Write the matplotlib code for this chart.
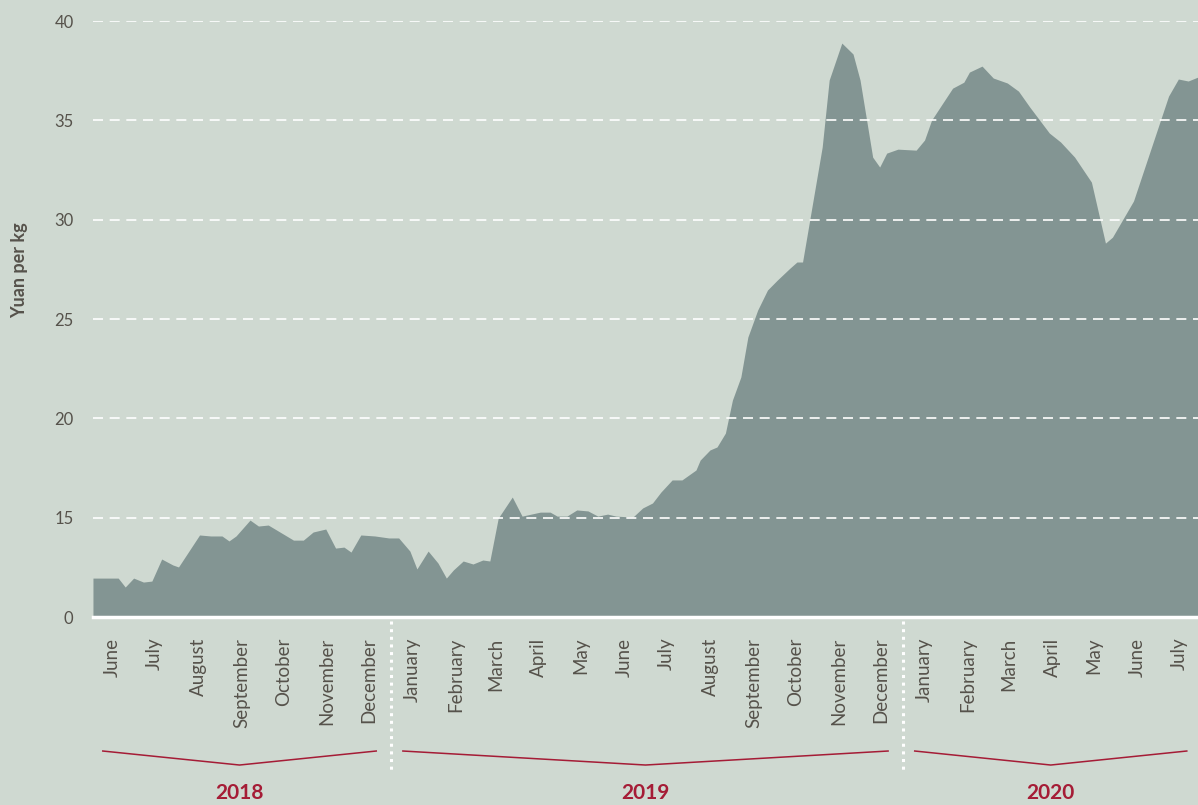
import numpy as np
import pandas as pd
import matplotlib
matplotlib.use('Agg')
import matplotlib.pyplot as plt
import matplotlib.transforms as mtransforms

# live hog price, yuan per kg; days counted from 15 June 2018
days = [-14, 4, 9, 15, 22, 28, 35, 43, 47, 62, 70, 78, 83, 88, 98, 104, 111,
        129, 136, 143, 152, 159, 165, 170, 177, 187, 197, 204, 212, 217, 225,
        232, 238, 243, 250, 257, 264, 269, 275, 285, 292, 305, 312, 317, 324,
        331, 339, 346, 353, 359, 371, 378, 385, 391, 399, 406, 416, 419, 426,
        431, 437, 442, 448, 453, 460, 467, 474, 483, 488, 492, 506, 511, 520,
        528, 533, 542, 547, 552, 560, 573, 579, 584, 592, 599, 607, 611, 620,
        628, 638, 646, 654, 668, 676, 686, 698, 708, 713, 728, 753, 760, 767,
        774]
price = [11.96, 11.96, 11.51, 11.96, 11.76, 11.81, 12.92, 12.62, 12.52, 14.13,
         14.08, 14.08, 13.83, 14.08, 14.88, 14.58, 14.63, 13.87, 13.87, 14.28,
         14.43, 13.47, 13.52, 13.27, 14.13, 14.08, 13.98, 13.98, 13.32, 12.42,
         13.32, 12.72, 11.96, 12.37, 12.82, 12.67, 12.87, 12.82, 14.98, 16.04,
         15.08, 15.28, 15.28, 15.08, 15.08, 15.39, 15.34, 15.08, 15.18, 15.08,
         15.03, 15.49, 15.74, 16.29, 16.90, 16.90, 17.40, 17.90, 18.41, 18.56,
         19.26, 20.92, 22.08, 24.09, 25.45, 26.46, 26.96, 27.56, 27.87, 27.87,
         33.65, 37.03, 38.89, 38.34, 37.03, 33.15, 32.65, 33.35, 33.55, 33.50,
         34.01, 35.01, 35.87, 36.62, 36.92, 37.43, 37.73, 37.13, 36.88, 36.47,
         35.67, 34.36, 33.91, 33.15, 31.89, 28.82, 29.12, 30.94, 36.22, 37.08,
         36.98, 37.18]

month_names = ['June', 'July', 'August', 'September', 'October', 'November',
               'December', 'January', 'February', 'March', 'April', 'May',
               'June', 'July', 'August', 'September', 'October', 'November',
               'December', 'January', 'February', 'March', 'April', 'May',
               'June', 'July']
years = ['2018', '2019', '2020']
# index range of month labels belonging to each year
year_spans = [(0, 6), (7, 18), (19, 25)]

ytick_values = [10, 15, 20, 25, 30, 35, 40]
ytick_labels = ['0', '15', '20', '25', '30', '35', '40']

BG = '#cfd9d1'
FILL = '#839593'
TEXT = '#56524b'
RED = '#a51c36'

plt.rcParams['font.family'] = ['Lato', 'DejaVu Sans']

start = pd.Timestamp('2018-06-15')
dates = start + pd.to_timedelta(days, unit='D')
# one label per month, placed mid-month
month_ticks = pd.date_range('2018-06-01', periods=len(month_names), freq='MS') + pd.Timedelta(days=14)

fig = plt.figure(figsize=(11.98, 8.05), dpi=100, facecolor=BG)
ax = fig.add_axes([0.0776, 0.2335, 0.9224, 0.7404])
ax.set_facecolor(BG)

ax.fill_between(dates, 0, price, color=FILL, linewidth=0, zorder=2)

# dashed grid drawn on top of the area
for v in ytick_values[1:]:
    ax.axhline(v, color='white', linestyle=(0, (6, 4)), linewidth=1.2, zorder=3)
ax.axhline(10, color='white', linewidth=2.5, zorder=4, clip_on=False)

for s in ax.spines.values():
    s.set_visible(False)

ax.set_yticks(ytick_values)
ax.set_yticklabels(ytick_labels, fontsize=12, color=TEXT)
ax.tick_params(axis='y', length=0, pad=14)

ax.set_xticks(month_ticks)
ax.set_xticklabels(month_names, rotation=90, fontsize=13.5, color=TEXT, va='top', ha='center')
ax.tick_params(axis='x', length=0, pad=15)

ax.set_xlim(dates[0], dates[-1])
ax.set_ylim(10, 40)

fig.text(20 / 1198, 1 - 270 / 805, 'Yuan per kg', rotation=90, ha='center', va='center',
         fontsize=13, fontweight='bold', color=TEXT)

trans = mtransforms.blended_transform_factory(ax.transData, ax.transAxes)

# dotted separators halfway between December and January
for i in [6, 18]:
    x = month_ticks[i] + (month_ticks[i + 1] - month_ticks[i]) / 2
    ax.plot([x, x], [-0.006, -0.258], transform=trans, color='white', linestyle=(0, (1, 1.5)),
            linewidth=2.2, clip_on=False)

# year brackets
for label, (i0, i1) in zip(years, year_spans):
    x0 = month_ticks[i0] - pd.Timedelta(days=7)
    x1 = month_ticks[i1] + pd.Timedelta(days=5)
    xm = x0 + (x1 - x0) / 2
    ax.plot([x0, xm, x1], [-0.2248, -0.2483, -0.2248], transform=trans, color=RED,
            linewidth=1.1, clip_on=False)
    ax.text(xm, -0.295, label, transform=trans, ha='center', va='center', fontsize=15,
            fontweight='bold', color=RED)

fig.savefig('out.png', dpi=100, facecolor=BG)
